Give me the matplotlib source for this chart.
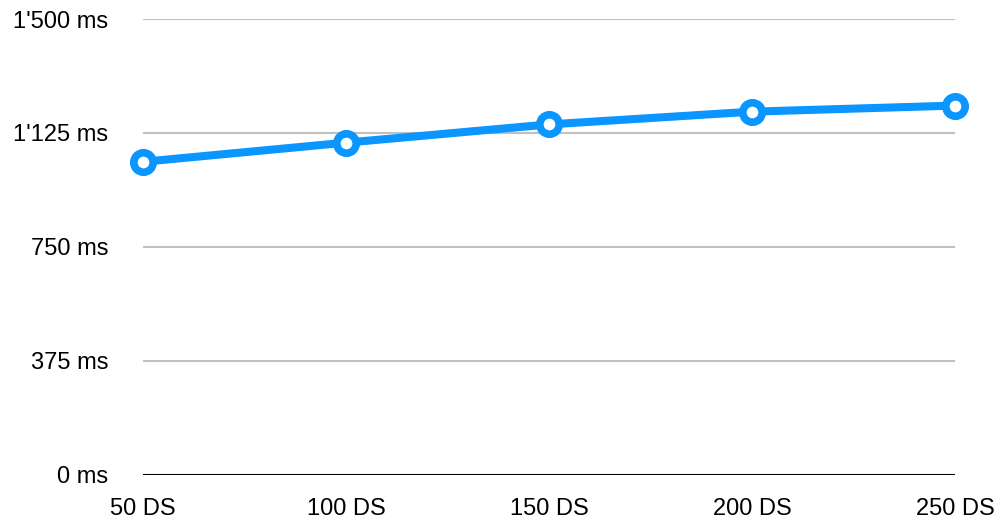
import matplotlib.pyplot as plt
import numpy as np

# Response time per number of data sets
categories = ["50 DS", "100 DS", "150 DS", "200 DS", "250 DS"]
times_ms = [1030, 1093, 1153, 1195, 1215]
y_ticks = [0, 375, 750, 1125, 1500]
y_labels = ["0 ms", "375 ms", "750 ms", "1'125 ms", "1'500 ms"]

plt.rcParams["font.family"] = ["Liberation Sans", "DejaVu Sans"]

fig = plt.figure(figsize=(9.98, 5.26), dpi=100)
ax = fig.add_axes([143 / 998, 51.3 / 526, (955 - 143) / 998, (474.7 - 19) / 526])

x = np.arange(len(categories))
ax.set_xlim(0, len(categories) - 1)
ax.set_ylim(0, 1500)

# Gridlines and baseline
for t in y_ticks[1:]:
    ax.axhline(t, color="#c0c0c0", lw=1.5, zorder=1)
ax.axhline(0, color="black", lw=1.5, zorder=1)

ax.plot(
    x,
    times_ms,
    color="#0a95ff",
    lw=5.8,
    marker="o",
    markersize=14,
    markeredgewidth=5.5,
    markerfacecolor="white",
    markeredgecolor="#0a95ff",
    clip_on=False,
    zorder=3,
    solid_capstyle="round",
)

ax.set_xticks(x, categories)
ax.set_yticks(y_ticks, y_labels)
ax.tick_params(axis="both", length=0, labelsize=17)
ax.tick_params(axis="y", pad=25)
ax.tick_params(axis="x", pad=17)
for s in ax.spines.values():
    s.set_visible(False)

fig.savefig("out.png", dpi=100)
